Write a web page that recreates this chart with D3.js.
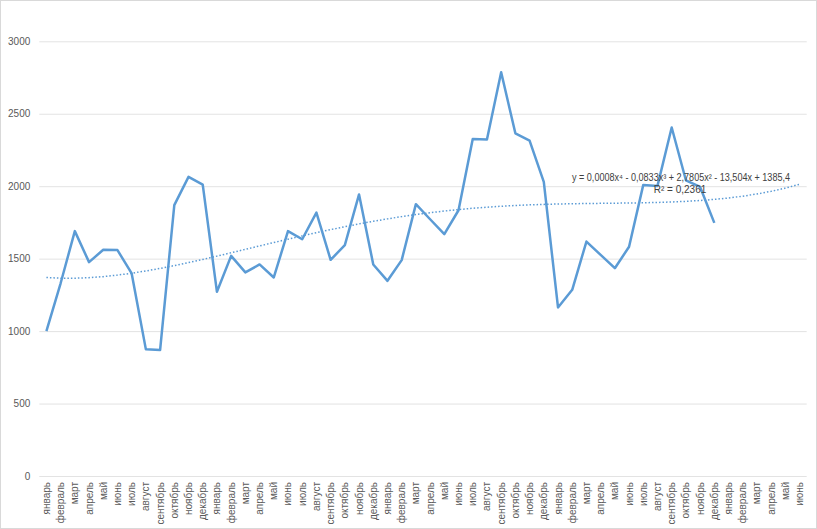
<!DOCTYPE html>
<html><head><meta charset="utf-8">
<script src="https://cdn.jsdelivr.net/npm/d3@7"></script>
<style>body{margin:0;background:#fff}svg{display:block}text{font-family:"Liberation Sans","Open Sans",sans-serif}</style>
</head><body><svg id="c" width="817" height="529"></svg>
<script>
const months = ["январь","февраль","март","апрель","май","июнь","июль","август","сентябрь","октябрь","ноябрь","декабрь"];
const categories = [...months, ...months, ...months, ...months, ...months.slice(0,6)];
const values = [1000,1330,1690,1476,1561,1559,1398,874,869,1869,2064,2011,
                1271,1519,1405,1460,1370,1690,1634,1818,1492,1593,1943,1460,
                1347,1490,1876,1772,1669,1834,2326,2322,2786,2365,2315,2030,
                1163,1285,1618,1526,1434,1582,2009,2002,2405,2041,1995,1747];
const yTicks = [0,500,1000,1500,2000,2500,3000];
const equationText = "y = 0,0008x⁴ - 0,0833x³ + 2,7805x² - 13,504x + 1385,4";
const r2Text = "R² = 0,2361";

const svg = d3.select("#c");
const W = 817, H = 529;
const L = 39.3, R = 806.7, T = 41.3, B = 476;
svg.append("rect").attr("x",0.5).attr("y",0.5).attr("width",W-1).attr("height",H-1).attr("fill","#fff").attr("stroke","#d9d9d9");

const x = d3.scaleBand().domain(d3.range(categories.length)).range([L,R]);
const y = d3.scaleLinear().domain([0,3000]).range([B,T]);
const cx = i => x(i) + x.bandwidth()/2;

// grid
const yAxis = svg.append("g").attr("transform",`translate(${L},0)`)
  .call(d3.axisLeft(y).tickValues(yTicks).tickFormat(d=>String(d)).tickSize(-(R-L)).tickPadding(9));
yAxis.select(".domain").remove();
yAxis.selectAll("line").attr("stroke","#d9d9d9").attr("stroke-width",0.75);
yAxis.selectAll("text").attr("fill","#595959").style("font-size","10px");

// x axis labels
const xAxis = svg.append("g").attr("transform",`translate(0,${B})`)
  .call(d3.axisBottom(x).tickFormat(i=>categories[i]).tickSize(0));
xAxis.select(".domain").remove();
xAxis.selectAll("text").attr("fill","#595959").style("font-size","10px")
  .attr("transform","rotate(-90)").attr("text-anchor","end")
  .attr("x",-6).attr("y",0).attr("dy","0.35em");

// polynomial (degree 4) least-squares trend
function polyfit(xs, ys, deg){
  const n = deg+1, A = Array.from({length:n},()=>new Array(n+1).fill(0));
  for(let k=0;k<xs.length;k++){
    const p=[1]; for(let j=1;j<2*n;j++) p.push(p[j-1]*xs[k]);
    for(let i=0;i<n;i++){ for(let j=0;j<n;j++) A[i][j]+=p[i+j]; A[i][n]+=p[i]*ys[k]; }
  }
  for(let i=0;i<n;i++){
    let m=i; for(let r=i+1;r<n;r++) if(Math.abs(A[r][i])>Math.abs(A[m][i])) m=r;
    [A[i],A[m]]=[A[m],A[i]];
    for(let r=0;r<n;r++){ if(r===i) continue; const f=A[r][i]/A[i][i]; for(let c=i;c<=n;c++) A[r][c]-=f*A[i][c]; }
  }
  return A.map((row,i)=>row[n]/row[i]);
}
const sc = t => (t-24.5)/24;
const coef = polyfit(values.map((v,i)=>sc(i+1)), values, 4);
const trend = categories.map((c,i)=>{ const t=sc(i+1); return coef.reduce((s,a,j)=>s+a*Math.pow(t,j),0); });

svg.append("path").datum(trend)
  .attr("d", d3.line().x((d,i)=>cx(i)).y(d=>y(d)))
  .attr("fill","none").attr("stroke","#5b9bd5").attr("stroke-width",1.5)
  .attr("stroke-dasharray","1.5,2");

svg.append("path").datum(values)
  .attr("d", d3.line().x((d,i)=>cx(i)).y(d=>y(d)))
  .attr("fill","none").attr("stroke","#5b9bd5").attr("stroke-width",2.5)
  .attr("stroke-linejoin","round");

svg.append("text").attr("x",681).attr("y",180.5).attr("text-anchor","middle")
  .attr("fill","#404040").style("font-size","10px").attr("textLength",218).attr("lengthAdjust","spacingAndGlyphs").text(equationText);
svg.append("text").attr("x",680).attr("y",193).attr("text-anchor","middle")
  .attr("fill","#404040").style("font-size","10px").text(r2Text);
</script></body></html>
